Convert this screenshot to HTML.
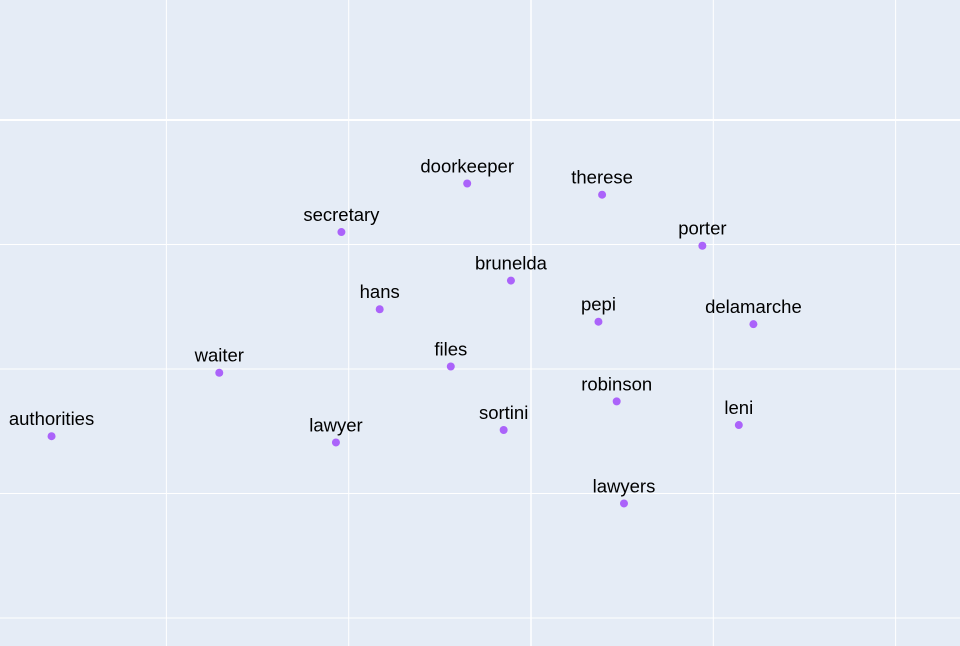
<!DOCTYPE html>
<html><head><meta charset="utf-8"><style>
html,body{margin:0;padding:0;background:#e5ecf6;}
svg{display:block;font-family:"Liberation Sans",Arial,sans-serif;}
</style></head><body>
<svg id="chart" width="960" height="646" viewBox="0 0 960 646">
<rect x="0" y="0" width="960" height="646" fill="#e5ecf6"/>
<g id="grid"></g>
<g id="marks"></g>
</svg>
<script>
const labels = ["authorities","waiter","lawyer","secretary","hans","doorkeeper","files","brunelda","sortini","therese","pepi","robinson","lawyers","porter","delamarche","leni"];
const xValues = [-2.63,-1.71,-1.07,-1.04,-0.83,-0.35,-0.44,-0.11,-0.15,0.39,0.37,0.47,0.51,0.94,1.22,1.14];
const yValues = [-0.54,-0.03,-0.59,1.10,0.48,1.49,0.02,0.71,-0.49,1.40,0.38,-0.26,-1.08,0.99,0.36,-0.45];
const xTicks = [-2,-1,0,1,2];
const yTicks = [-2,-1,0,1,2];
const NS = "http://www.w3.org/2000/svg";
function sx(v){return 531 + v*182.3;}
function sy(v){return 369 - v*124.5;}
const grid = document.getElementById('grid');
const marks = document.getElementById('marks');
xTicks.forEach(t=>{
  const l=document.createElementNS(NS,'line');
  
  
  l.setAttribute('x1',sx(t));l.setAttribute('x2',sx(t));l.setAttribute('y1',0);l.setAttribute('y2',646);
  l.setAttribute('stroke','#fff');l.setAttribute('stroke-width',t===0?1.5:1);
  grid.appendChild(l);
});
yTicks.forEach(t=>{
  const l=document.createElementNS(NS,'line');
  
  
  l.setAttribute('y1',sy(t));l.setAttribute('y2',sy(t));l.setAttribute('x1',0);l.setAttribute('x2',960);
  l.setAttribute('stroke','#fff');l.setAttribute('stroke-width',t===2?2:1);
  grid.appendChild(l);
});
labels.forEach((name,i)=>{
  const c=document.createElementNS(NS,'circle');
  
  
  c.setAttribute('cx',sx(xValues[i]));c.setAttribute('cy',sy(yValues[i]));c.setAttribute('r',4);
  c.setAttribute('fill','#ab63fa');
  marks.appendChild(c);
  const t=document.createElementNS(NS,'text');
  
  
  t.setAttribute('x',sx(xValues[i]));t.setAttribute('y',sy(yValues[i])-11);
  t.setAttribute('text-anchor','middle');t.setAttribute('font-size','18.5');t.setAttribute('fill','#000');
  t.textContent=name;
  marks.appendChild(t);
});
</script>
</body></html>
